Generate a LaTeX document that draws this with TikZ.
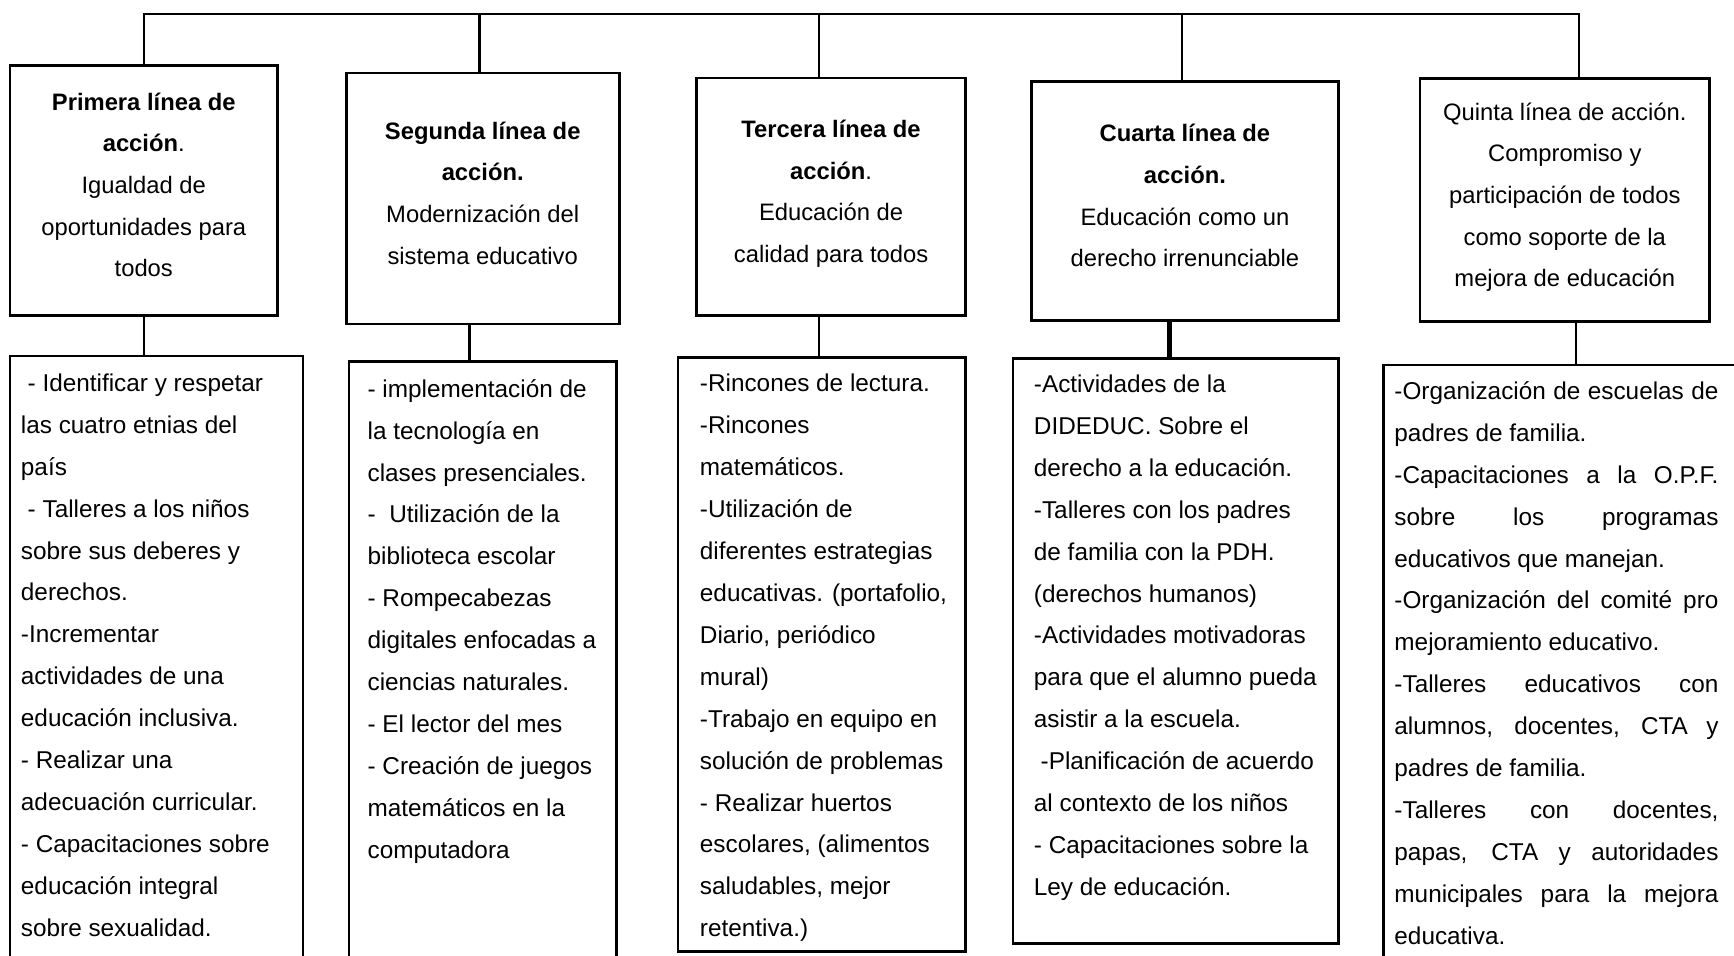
\documentclass[tikz,border=0pt]{standalone}
\usepackage{fontspec}
\setmainfont{Liberation Sans}
\usetikzlibrary{positioning}
\tikzset{
  link/.style={line width=2pt},
  box/.style={draw, line width=2.5pt, inner sep=2pt},
  headbox/.style={box, align=center, font=\fontsize{21.5}{37.7}\selectfont},
  listbox/.style={box},
  listtext/.style={align=left, inner sep=0pt, font=\fontsize{22}{37.9}\selectfont}
}
\newcommand{\lowdepth}{\rule[-10pt]{0pt}{10pt}}

\begin{document}
\begin{tikzpicture}[x=1pt, y=-1pt]
  \path[use as bounding box, fill=white] (0,0) rectangle (1568,864);
  \clip (0,0) rectangle (1568,864);

  % lineas de accion
  \node[headbox, minimum width=242pt, minimum height=226pt] (h1) at (130,172)
    {\textbf{Primera línea de}\\\textbf{acción}.\\Igualdad de\\oportunidades para\\todos\lowdepth};
  \node[headbox, minimum width=247pt, minimum height=227pt, right=59.5pt of h1, yshift=-7.5pt] (h2)
    {\textbf{Segunda línea de}\\\textbf{acción.}\\Modernización del\\sistema educativo\lowdepth};
  \node[headbox, minimum width=243pt, minimum height=215pt, right=67.5pt of h2, yshift=1.5pt] (h3)
    {\textbf{Tercera línea de}\\\textbf{acción}.\\Educación de\\calidad para todos\lowdepth};
  \node[headbox, minimum width=277pt, minimum height=216pt, right=57.5pt of h3, yshift=-4pt] (h4)
    {\textbf{Cuarta línea de}\\\textbf{acción.}\\Educación como un\\derecho irrenunciable\lowdepth};
  \node[headbox, minimum width=262pt, minimum height=220pt, right=71.5pt of h4, yshift=1pt] (h5)
    {Quinta línea de acción.\\Compromiso y\\participación de todos\\como soporte de la\\mejora de educación\lowdepth};

  % actividades
  \node[listbox, minimum width=265pt, minimum height=578pt, below=34.5pt of h1, xshift=11.5pt] (l1) {};
  \node[listbox, minimum width=242pt, minimum height=573pt, below=31.5pt of h2] (l2) {};
  \node[listbox, minimum width=260pt, minimum height=537pt, below=35.5pt of h3, xshift=-8.5pt] (l3) {};
  \node[listbox, minimum width=294pt, minimum height=529pt, below=31.5pt of h4, xshift=-8.5pt] (l4) {};
  \node[listbox, minimum width=369pt, minimum height=570pt, below=36.5pt of h5, xshift=20.5pt] (l5) {};

  \node[listtext, below right=17pt and 11pt of l1.north west] (t1)
    {\ - Identificar y respetar\\las cuatro etnias del\\país\\\ - Talleres a los niños\\sobre sus deberes y\\derechos.\\-Incrementar\\actividades de una\\educación inclusiva.\\- Realizar una\\adecuación curricular.\\- Capacitaciones sobre\\educación integral\\sobre sexualidad.};
  \node[listtext, below right=17pt and 18pt of l2.north west] (t2)
    {- implementación de\\la tecnología en\\clases presenciales.\\- \ Utilización de la\\biblioteca escolar\\- Rompecabezas\\digitales enfocadas a\\ciencias naturales.\\- El lector del mes\\- Creación de juegos\\matemáticos en la\\computadora};
  \node[listtext, below right=16pt and 21pt of l3.north west] (t3)
    {-Rincones de lectura.\\-Rincones\\matemáticos.\\-Utilización de\\diferentes estrategias\\educativas. (portafolio,\\Diario, periódico\\mural)\\-Trabajo en equipo en\\solución de problemas\\- Realizar huertos\\escolares, (alimentos\\saludables, mejor\\retentiva.)};
  \node[listtext, below right=16pt and 20pt of l4.north west] (t4)
    {-Actividades de la\\DIDEDUC. Sobre el\\derecho a la educación.\\-Talleres con los padres\\de familia con la PDH.\\(derechos humanos)\\-Actividades motivadoras\\para que el alumno pueda\\asistir a la escuela.\\\ -Planificación de acuerdo\\al contexto de los niños\\- Capacitaciones sobre la\\Ley de educación.};
  \node[listtext, below right=16pt and 11pt of l5.north west] (t5)
    {\parbox{293pt}{\hyphenpenalty=10000\tolerance=10000
     -Organización de escuelas de padres de familia.\par
     -Capacitaciones a la O.P.F.\linebreak sobre los programas\linebreak educativos que manejan.\par
     -Organización del comité pro\linebreak mejoramiento educativo.\par
     -Talleres educativos con\linebreak alumnos, docentes, CTA y\linebreak padres de familia.\par
     -Talleres con docentes,\linebreak papas, CTA y autoridades\linebreak municipales para la mejora\linebreak educativa.}};

  % conectores
  \coordinate (bar) at (130,13);
  \draw[link] (h1.north) -- (h1.north |- bar) -- ([xshift=13pt]h5.north |- bar) -- ([xshift=13pt]h5.north);
  \draw[link] ([xshift=-3pt]h2.north) -- ([xshift=-3pt]h2.north |- bar);
  \draw[link] ([xshift=-11pt]h3.north) -- ([xshift=-11pt]h3.north |- bar);
  \draw[link] ([xshift=-3pt]h4.north) -- ([xshift=-3pt]h4.north |- bar);

  \draw[link] (h1.south) -- (h1.south |- l1.north);
  \draw[link] ([xshift=-12pt]h2.south) -- ([xshift=-12pt]h2.south |- l2.north);
  \draw[link] ([xshift=-11pt]h3.south) -- ([xshift=-11pt]h3.south |- l3.north);
  \draw[link, line width=4.5pt] ([xshift=-14pt]h4.south) -- ([xshift=-14pt]h4.south |- l4.north);
  \draw[link] ([xshift=10pt]h5.south) -- ([xshift=10pt]h5.south |- l5.north);
\end{tikzpicture}
\end{document}
